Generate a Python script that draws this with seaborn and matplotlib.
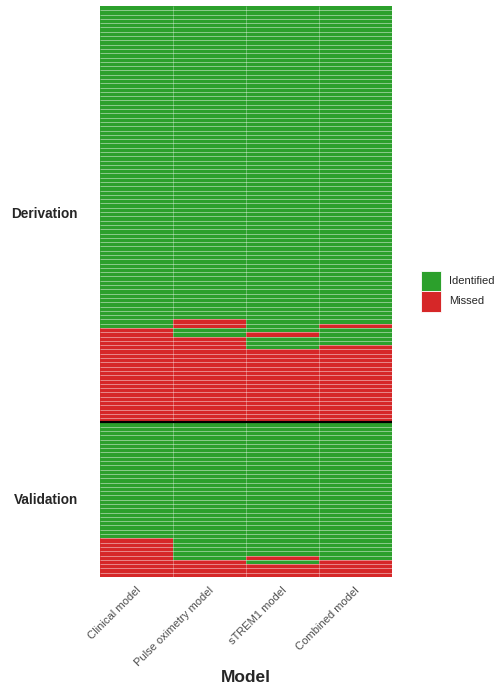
import numpy as np
import pandas as pd
import matplotlib
matplotlib.use("Agg")
import matplotlib.pyplot as plt
from matplotlib.colors import ListedColormap
from matplotlib.patches import Rectangle
from matplotlib.transforms import ScaledTranslation
import seaborn as sns

sns.set_style("white")
plt.rcParams['font.family'] = ['Liberation Sans', 'DejaVu Sans']

models = ["Clinical model", "Pulse oximetry model", "sTREM1 model", "Combined model"]
cohorts = ["Derivation", "Validation"]
status_labels = ["Identified", "Missed"]

# Run-length encoded status per patient (top to bottom)
deriv_clinical = [("Identified", 75), ("Missed", 22)]
deriv_pulse = [("Identified", 73), ("Missed", 2), ("Identified", 2), ("Missed", 20)]
deriv_strem1 = [("Identified", 76), ("Missed", 1), ("Identified", 3), ("Missed", 17)]
deriv_combined = [("Identified", 74), ("Missed", 1), ("Identified", 4), ("Missed", 18)]

valid_clinical = [("Identified", 27), ("Missed", 9)]
valid_pulse = [("Identified", 32), ("Missed", 4)]
valid_strem1 = [("Identified", 31), ("Missed", 1), ("Identified", 1), ("Missed", 3)]
valid_combined = [("Identified", 32), ("Missed", 4)]

green = "#2ca02c"
red = "#d62728"
status_colors = [green, red]


def expand(runs):
    out = []
    for lab, n in runs:
        out += [status_labels.index(lab)] * n
    return out


deriv = np.array([expand(r) for r in [deriv_clinical, deriv_pulse, deriv_strem1, deriv_combined]]).T
valid = np.array([expand(r) for r in [valid_clinical, valid_pulse, valid_strem1, valid_combined]]).T
n_d = deriv.shape[0]
n_v = valid.shape[0]
mat = np.vstack([deriv, valid])
df = pd.DataFrame(mat, columns=models)
n_rows, n_cols = mat.shape

W, H = 496, 690
fig = plt.figure(figsize=(W / 100, H / 100), dpi=100)
ax = fig.add_axes([100 / W, 1 - 577 / H, 292 / W, 571 / H])
sns.heatmap(df, ax=ax, cmap=ListedColormap(status_colors), vmin=0, vmax=1,
            cbar=False, linewidths=0, xticklabels=True, yticklabels=False)
# thin translucent white tile borders
ax.hlines(np.arange(1, n_rows), 0, n_cols, colors="white", alpha=0.45, lw=0.7)
ax.vlines(np.arange(1, n_cols), 0, n_rows, colors="white", alpha=0.3, lw=0.7)
ax.axhline(n_d, color="black", lw=1.6)
ax.set_ylabel("")
ax.set_xlabel("")
ax.tick_params(axis="x", length=0, pad=3)
offset = ScaledTranslation(-1 / 100, -4 / 100, fig.dpi_scale_trans)
for t in ax.get_xticklabels():
    t.set_rotation(45)
    t.set_ha("right")
    t.set_rotation_mode("anchor")
    t.set_fontsize(8)
    t.set_color("#4d4d4d")
    t.set_transform(t.get_transform() + offset)

# facet labels
y_top = 6
pitch = 571 / (n_d + n_v)
yd = y_top + pitch * n_d / 2
yv = y_top + pitch * (n_d + n_v / 2)
fig.text(78 / W, 1 - yd / H, cohorts[0], ha="right", va="center", fontsize=9.8, fontweight="bold")
fig.text(78 / W, 1 - yv / H, cohorts[1], ha="right", va="center", fontsize=9.8, fontweight="bold")

fig.text(246 / W, 1 - 678 / H, "Model", ha="center", va="center", fontsize=12.5, fontweight="bold")

# legend (drawn as keys + labels)
key_x, key_w, key_h, key_top = 421, 20, 20.5, 270.5
for i, (lab, col) in enumerate(zip(status_labels, status_colors)):
    y0 = key_top + i * key_h
    fig.add_artist(Rectangle((key_x / W, 1 - (y0 + key_h) / H), key_w / W, key_h / H,
                             transform=fig.transFigure, facecolor=col, edgecolor="white", lw=0.6))
    fig.text(449 / W, 1 - (y0 + key_h / 2) / H, lab, ha="left", va="center", fontsize=8)

fig.savefig("out.png", dpi=100)
